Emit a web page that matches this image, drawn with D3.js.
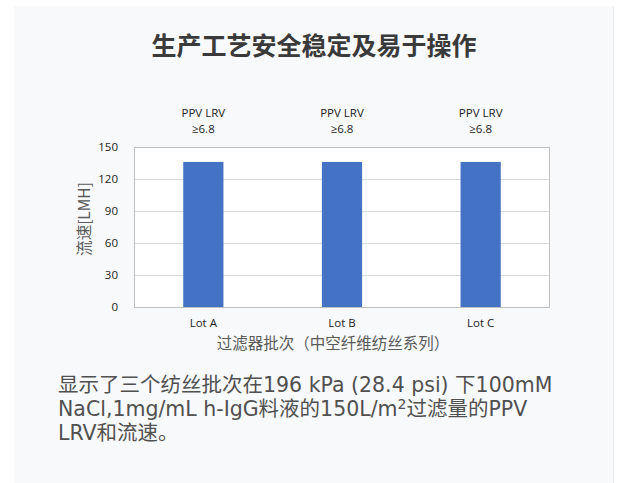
<!DOCTYPE html>
<html>
<head>
<meta charset="utf-8">
<script src="https://cdn.jsdelivr.net/npm/d3@7"></script>
<style>
  html, body { margin: 0; padding: 0; background: #fff; }
  svg { display: block; }
</style>
</head>
<body>
<div id="chart-area"><svg></svg></div>
<script>
// Chart data
const lots = ['Lot A', 'Lot B', 'Lot C'];
const flux = [136, 136, 136];
const lrvNotes = ['≥6.8', '≥6.8', '≥6.8'];
const yTicks = [0, 30, 60, 90, 120, 150];

const titleText = '生产工艺安全稳定及易于操作';
const xTitle = '过滤器批次（中空纤维纺丝系列）';
const yTitle = '流速[LMH]';

const width = 617;
const height = 483;
const svg = d3.select('#chart-area').select('svg')
    .attr('width', width).attr('height', height);

// Light card behind everything
svg.append('rect')
    .attr('x', 15).attr('y', 6)
    .attr('width', 599).attr('height', 490)
    .attr('fill', '#e9eaec');
svg.append('rect')
    .attr('x', 14).attr('y', 6)
    .attr('width', 599).attr('height', 490)
    .attr('fill', '#f8f9fb');

// Heading
svg.append('text')
    .attr('x', 314).attr('y', 55)
    .attr('text-anchor', 'middle')
    .style('font-family', '"Noto Sans CJK SC", sans-serif')
    .style('font-weight', 700)
    .style('font-size', '25px')
    .style('fill', '#3a3a3a')
    .text(titleText);

// Plot area (margin convention)
const margin = { top: 147, left: 134 };
const innerWidth = 416;
const innerHeight = 160;
const g = svg.append('g')
    .attr('transform', `translate(${margin.left},${margin.top})`);

const x = d3.scaleBand().domain(lots).range([0, innerWidth]).paddingInner(0.71).paddingOuter(0.355);
const y = d3.scaleLinear().domain([0, 150]).range([innerHeight, 0]);

const tickFont = '"Open Sans", "Noto Sans", sans-serif';

g.append('rect')
    .attr('width', innerWidth).attr('height', innerHeight)
    .attr('fill', '#fff');

// gridlines
g.selectAll('line.grid')
    .data(yTicks)
    .enter().append('line')
    .attr('class', 'grid')
    .attr('x1', 0).attr('x2', innerWidth)
    .attr('y1', d => y(d) + 0.5).attr('y2', d => y(d) + 0.5)
    .attr('stroke', '#d9d9d9');

// bars
g.selectAll('rect.bar')
    .data(flux)
    .enter().append('rect')
    .attr('class', 'bar')
    .attr('x', (d, i) => x(lots[i]))
    .attr('y', d => y(d))
    .attr('width', x.bandwidth())
    .attr('height', d => innerHeight - y(d))
    .attr('fill', '#4472c4');

// plot border
g.append('rect')
    .attr('x', 0.5).attr('y', 0.5)
    .attr('width', innerWidth - 1).attr('height', innerHeight)
    .attr('fill', 'none')
    .attr('stroke', '#bfbfbf');

// y axis labels
const yAxis = g.append('g')
    .call(d3.axisLeft(y).tickValues(yTicks).tickSize(0).tickPadding(16));
yAxis.select('.domain').remove();
yAxis.selectAll('text')
    .style('font-family', tickFont)
    .style('font-size', '11.5px')
    .style('fill', '#222');

// x axis labels
const xAxis = g.append('g')
    .attr('transform', `translate(0,${innerHeight})`)
    .call(d3.axisBottom(x).tickSize(0).tickPadding(12));
xAxis.select('.domain').remove();
xAxis.selectAll('text')
    .style('font-family', tickFont)
    .style('font-size', '11.5px')
    .style('fill', '#222');

// annotations above bars
const notes = g.selectAll('g.note')
    .data(lots)
    .enter().append('g')
    .attr('class', 'note')
    .attr('transform', d => `translate(${x(d) + x.bandwidth() / 2},0)`)
    .style('font-family', tickFont)
    .style('font-size', '11.5px')
    .style('fill', '#222')
    .attr('text-anchor', 'middle');
notes.append('text').attr('y', -30).text('PPV LRV');
notes.append('text').attr('y', -14).text((d, i) => lrvNotes[i]);

// axis titles
g.append('text')
    .attr('x', innerWidth / 2 - 9).attr('y', innerHeight + 42)
    .attr('text-anchor', 'middle')
    .style('font-family', '"Noto Sans CJK SC", sans-serif')
    .style('font-size', '15.5px')
    .style('fill', '#595959')
    .text(xTitle);

g.append('text')
    .attr('transform', `translate(-44,${innerHeight / 2 - 8}) rotate(-90)`)
    .attr('text-anchor', 'middle')
    .style('font-family', '"Noto Sans CJK SC", sans-serif')
    .style('font-size', '15.5px')
    .style('fill', '#595959')
    .text(yTitle);

// caption below the chart
const cap = svg.append('text')
    .style('font-family', '"DejaVu Sans", "Noto Sans CJK SC", sans-serif')
    .style('font-size', '20.5px')
    .style('fill', '#505050');
cap.append('tspan').attr('x', 58).attr('y', 392)
    .text('显示了三个纺丝批次在196 kPa (28.4 psi) 下100mM');
const l2 = cap.append('tspan').attr('x', 58).attr('y', 416);
l2.append('tspan').text('NaCl,1mg/mL h-IgG料液的150L/m');
l2.append('tspan').attr('dy', -7).style('font-size', '14px').text('2');
l2.append('tspan').attr('dy', 7).text('过滤量的PPV');
cap.append('tspan').attr('x', 58).attr('y', 440).text('LRV和流速。');
</script>
</body>
</html>
